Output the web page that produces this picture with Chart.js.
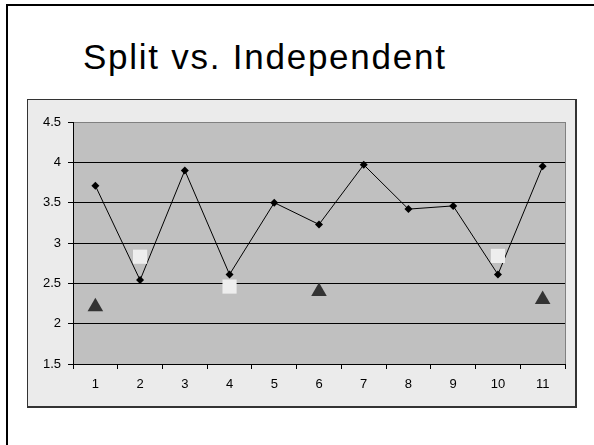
<!DOCTYPE html>
<html>
<head>
<meta charset="utf-8">
<script src="https://cdn.jsdelivr.net/npm/chart.js@4/dist/chart.umd.min.js"></script>
<style>
  html, body { margin: 0; padding: 0; background: #fff; overflow: hidden; width: 594px; height: 445px; }
  #slide { position: absolute; left: 6px; top: 4px; width: 700px; height: 600px; border: 2px solid #000; }
  #title {
    position: absolute; left: 83px; top: 37px; white-space: nowrap;
    font-family: "Liberation Sans", Arial, sans-serif; font-size: 35px; line-height: normal;
    letter-spacing: 1.75px; color: #000;
  }
  #box {
    position: absolute; left: 27px; top: 99px; width: 547px; height: 306px;
    background: #ebebeb; border-style: solid; border-color: #333; border-width: 1px 2px 2px 1px;
  }
  #box canvas { display: block; }
</style>
</head>
<body>
<div id="slide"></div>
<div id="title">Split vs. Independent</div>
<div id="box"><canvas id="chart" width="547" height="306"></canvas></div>
<script>
const categories = ["1", "2", "3", "4", "5", "6", "7", "8", "9", "10", "11"];
const splitValues = [3.71, 2.54, 3.90, 2.61, 3.50, 3.23, 3.97, 3.42, 3.46, 2.61, 3.95];
const squareValues = [null, 2.83, null, 2.46, null, null, null, null, null, 2.84, null];
const triangleValues = [2.21, null, null, null, null, 2.40, null, null, null, null, 2.30];
const yMin = 1.5, yMax = 4.5, yStep = 0.5;

// grey plot area plus the grey right edge
const plotArea = {
  id: "plotArea",
  beforeDraw(chart) {
    const { ctx, chartArea: a } = chart;
    ctx.save();
    ctx.fillStyle = "#c0c0c0";
    ctx.fillRect(a.left, a.top, a.right - a.left, a.bottom - a.top);
    ctx.strokeStyle = "#808080";
    ctx.lineWidth = 1;
    ctx.beginPath();
    ctx.moveTo(a.right + 0.5, a.top);
    ctx.lineTo(a.right + 0.5, a.bottom);
    ctx.stroke();
    ctx.restore();
  },
};

const font = { family: "'Liberation Sans', Arial, sans-serif", size: 13 };

new Chart(document.getElementById("chart"), {
  type: "line",
  data: {
    labels: categories,
    datasets: [
      {
        data: splitValues, order: 3,
        borderColor: "#000", borderWidth: 1, tension: 0,
        pointStyle: "rectRot", pointRadius: 4, pointBackgroundColor: "#000", pointBorderColor: "#000", pointBorderWidth: 0,
      },
      {
        data: squareValues, order: 1, showLine: false,
        pointStyle: "rect", pointRadius: 10, pointBackgroundColor: "#eeeeee", pointBorderColor: "#eeeeee", pointBorderWidth: 0,
      },
      {
        data: triangleValues, order: 2, showLine: false,
        pointStyle: "triangle", pointRadius: 9, pointBackgroundColor: "#333333", pointBorderColor: "#333333", pointBorderWidth: 0,
      },
    ],
  },
  options: {
    responsive: false,
    devicePixelRatio: 1,
    animation: false,
    layout: { padding: { top: 22, right: 8, left: 0, bottom: 0 } },
    plugins: { legend: { display: false }, tooltip: { enabled: false }, title: { display: false } },
    scales: {
      x: {
        offset: true,
        grid: { offset: true, drawOnChartArea: false, drawTicks: true, tickLength: 5, tickColor: "#000" },
        border: { color: "#000", width: 1 },
        ticks: { color: "#000", font, padding: 8, maxRotation: 0 },
        afterFit(s) { s.height = 42; },
      },
      y: {
        min: yMin, max: yMax,
        grid: {
          color: (c) => (c.tick && c.tick.value === yMax ? "#808080" : "#000"),
          tickLength: 5, tickColor: "#000",
        },
        border: { color: "#000", width: 1 },
        ticks: { stepSize: yStep, color: "#000", font, padding: 7, callback: (v) => String(v) },
        afterFit(s) { s.width = 45; },
      },
    },
  },
  plugins: [plotArea],
});
</script>
</body>
</html>
